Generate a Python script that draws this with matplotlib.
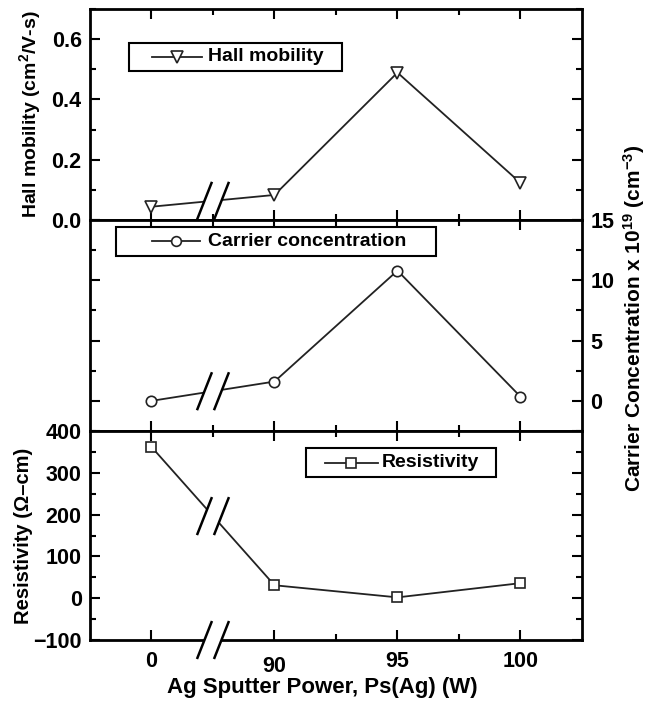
import matplotlib
matplotlib.use("Agg")

import matplotlib.pyplot as plt
import matplotlib.transforms as mtransforms
from matplotlib.ticker import MultipleLocator, FixedLocator, FormatStrFormatter
from matplotlib.patches import Polygon, Rectangle

plt.rcParams['font.family'] = ['Liberation Sans', 'DejaVu Sans']
plt.rcParams['font.weight'] = 'bold'
plt.rcParams['axes.labelweight'] = 'bold'
plt.rcParams['mathtext.fontset'] = 'custom'
plt.rcParams['mathtext.rm'] = 'Liberation Sans:bold'
plt.rcParams['mathtext.bf'] = 'Liberation Sans:bold'
plt.rcParams['mathtext.it'] = 'Liberation Sans:bold'
plt.rcParams['mathtext.default'] = 'rm'

# data
power_labels = ["0", "90", "95", "100"]
hall_mobility = [0.044, 0.083, 0.489, 0.123]
carrier_conc = [0.0, 1.6, 10.8, 0.35]
resistivity = [362, 31, 2, 36]

xpos = list(range(len(power_labels)))
line_color = "#222222"

fig = plt.figure(figsize=(6.53, 7.03), dpi=100)
left, width = 0.1378, 0.7534
ax1 = fig.add_axes([left, 0.6871, width, 0.3001])
ax2 = fig.add_axes([left, 0.3869, width, 0.3002])
ax3 = fig.add_axes([left, 0.0896, width, 0.2973])


def style_axis(ax):
    for s in ax.spines.values():
        s.set_linewidth(2)
    ax.set_xlim(-0.5, 3.5)
    ax.xaxis.set_major_locator(FixedLocator(xpos))
    ax.xaxis.set_minor_locator(FixedLocator([0.5, 1.5, 2.5]))
    ax.tick_params(which='both', direction='in', top=True, right=True,
                   width=1.5, labelsize=15.5, pad=6)
    ax.tick_params(which='major', length=7)
    ax.tick_params(which='minor', length=4.5)
    ax.tick_params(axis='x', labelbottom=False)


def draw_break(ax, x, y):
    # "//" mark drawn in inches around a data point
    trans = fig.dpi_scale_trans + mtransforms.ScaledTranslation(x, y, ax.transData)
    c, hx, hy = 0.085, 0.075, 0.19
    g = 0.08
    gx = hx * g / hy
    gap = Polygon([(-c - gx, -g), (c - gx, -g), (c + gx, g), (-c + gx, g)],
                  closed=True, facecolor='white', edgecolor='none',
                  transform=trans, clip_on=False, zorder=5)
    ax.add_patch(gap)
    for cx in (-c, c):
        ax.plot([cx - hx, cx + hx], [-hy, hy], color='black', lw=1.8,
                transform=trans, clip_on=False, zorder=6,
                solid_capstyle='butt')


def draw_legend(ax, box, handle, text_x, text_y, marker, ms, label):
    # boxed legend, positions in axes fraction
    x0, x1, y0, y1 = box
    ax.add_patch(Rectangle((x0, y1), x1 - x0, y0 - y1, transform=ax.transAxes,
                           facecolor='white', edgecolor='black', lw=1.5, zorder=7))
    ax.plot(handle, [text_y, text_y], transform=ax.transAxes, color=line_color,
            lw=1.3, zorder=8)
    ax.plot([(handle[0] + handle[1]) / 2], [text_y], transform=ax.transAxes,
            marker=marker, ms=ms, mfc='white', mec=line_color, mew=1.2, zorder=9)
    ax.text(text_x, text_y, label, transform=ax.transAxes, ha='left',
            va='center', fontsize=14, fontweight='bold', zorder=9)


for ax in (ax1, ax2, ax3):
    style_axis(ax)

# Hall mobility
ax1.plot(xpos, hall_mobility, color=line_color, lw=1.3, marker='v', ms=8.5,
         mfc='white', mec=line_color, mew=1.2)
ax1.set_ylim(0, 0.7)
ax1.yaxis.set_major_locator(MultipleLocator(0.2))
ax1.yaxis.set_minor_locator(MultipleLocator(0.1))
ax1.yaxis.set_major_formatter(FormatStrFormatter('%.1f'))
ax1.set_ylabel("Hall mobility (cm$^{2}$/V-s)", fontsize=14)
ax1.yaxis.set_label_coords(-0.095, 0.5)
draw_legend(ax1, (0.0793, 0.5122, 0.8389, 0.7062), (0.126, 0.228), 0.240,
            0.7725, 'v', 8, "Hall mobility")
draw_break(ax1, 0.5, (hall_mobility[0] + hall_mobility[1]) / 2)

# Carrier concentration
ax2.plot(xpos, carrier_conc, color=line_color, lw=1.3, marker='o', ms=7.5,
         mfc='white', mec=line_color, mew=1.2)
ax2.set_ylim(-2.5, 15)
ax2.yaxis.set_major_locator(MultipleLocator(5))
ax2.yaxis.set_minor_locator(MultipleLocator(2.5))
ax2.tick_params(axis='y', labelleft=False, labelright=True)
ax2.yaxis.set_label_position('right')
ax2.set_ylabel("Carrier Concentration x 10$^{19}$ (cm$^{-3}$)", fontsize=15)
ax2.yaxis.set_label_coords(1.08, 0.535)
draw_legend(ax2, (0.0528, 0.7033, 0.9668, 0.8294), (0.126, 0.2236), 0.240,
            0.898, 'o', 7, "Carrier concentration")
draw_break(ax2, 0.5, (carrier_conc[0] + carrier_conc[1]) / 2)

# Resistivity
ax3.plot(xpos, resistivity, color=line_color, lw=1.3, marker='s', ms=7,
         mfc='white', mec=line_color, mew=1.2)
ax3.set_ylim(-100, 400)
ax3.yaxis.set_major_locator(MultipleLocator(100))
ax3.yaxis.set_minor_locator(MultipleLocator(50))
ax3.set_ylabel("Resistivity (\u03a9\u2013cm)", fontsize=14.5)
ax3.yaxis.set_label_coords(-0.115, 0.5)
ax3.tick_params(axis='x', labelbottom=True, pad=8)
ax3.set_xticklabels(power_labels)
ax3.set_xlabel("Ag Sputter Power, Ps(Ag) (W)", fontsize=16)
ax3.xaxis.set_label_coords(0.472, -0.175)
draw_legend(ax3, (0.439, 0.8252, 0.9187, 0.780), (0.4776, 0.5854), 0.5935,
            0.849, 's', 6.5, "Resistivity")
draw_break(ax3, 0.5, (resistivity[0] + resistivity[1]) / 2)
draw_break(ax3, 0.5, -100)

# the "90" label sits a little lower in the original
lab = ax3.xaxis.get_major_ticks()[1].label1
lab.set_transform(lab.get_transform() +
                  mtransforms.ScaledTranslation(0, -0.05, fig.dpi_scale_trans))

fig.savefig("out.png", dpi=100)
